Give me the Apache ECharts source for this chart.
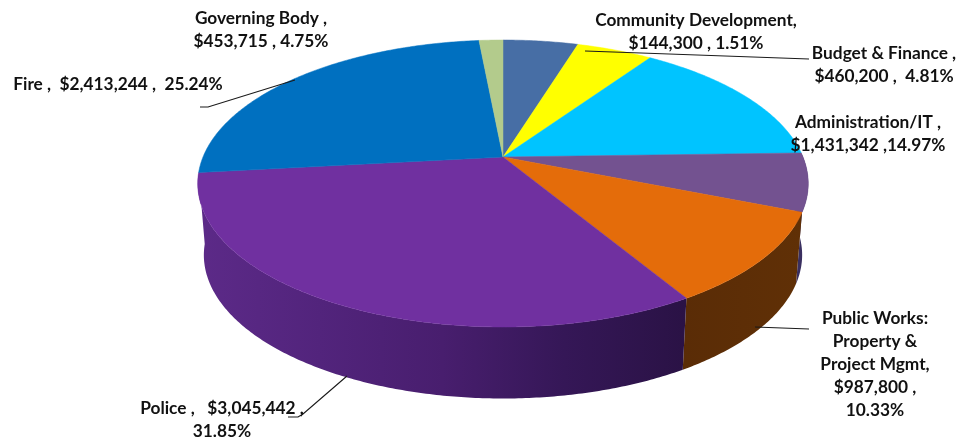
<!DOCTYPE html>
<html>
<head>
<meta charset="utf-8">
<style>html,body{margin:0;padding:0;background:#fff}#chart{width:967px;height:441px}</style>
<script src="https://cdn.jsdelivr.net/npm/echarts@6/dist/echarts.min.js"></script>
</head>
<body>
<div id="chart"></div>
<script>
// Department budget shares, clockwise from twelve o'clock.
const categories = ['Governing Body', 'Budget & Finance', 'Administration/IT', 'Other',
  'Public Works', 'Police', 'Fire', 'Community Development'];
const amounts = [453715, 460200, 1431342, 625000, 987800, 3045442, 2413244, 144300];
const percents = [4.75, 4.81, 14.97, 6.54, 10.33, 31.85, 25.24, 1.51];

// Slice colours: top face, then side wall shading from left to right.
const topColors = ['#476ea5', '#ffff00', '#00c4ff', '#735290', '#e46c0a', '#7030a0', '#0070c0', '#b3cb8c'];
const wallStops = {
  3: ['#3a2f60', '#3a2f60'],
  4: ['#5a2c06', '#603006'],
  5: ['#5c2a88', '#52247c', '#481e6e', '#351757', '#2a1245']
};

const usd = v => '$' + v.toLocaleString('en-US');
const pct = v => v.toFixed(2) + '%';

// Label blocks: text lines, centre x, first line centre y, leader polyline.
const labelBlocks = [
  { i: 0, x: 261, y: 18, lines: [categories[0] + ' ,', usd(amounts[0]) + ' , ' + pct(percents[0])] },
  { i: 1, x: 884, y: 53, lines: [categories[1] + ' ,', usd(amounts[1]) + ' ,  ' + pct(percents[1])],
    leader: [[585, 51], [809, 59]] },
  { i: 2, x: 868, y: 122, lines: [categories[2] + ' ,', usd(amounts[2]) + ' ,' + pct(percents[2])] },
  { i: 4, x: 875, y: 318, lines: ['Public Works:', 'Property &', 'Project Mgmt,', usd(amounts[4]) + ' ,', pct(percents[4])],
    leader: [[755, 327], [809, 329]] },
  { i: 5, x: 222, y: 408, lines: [categories[5] + ' ,   ' + usd(amounts[5]) + ' ,', pct(percents[5])],
    leader: [[347, 376], [303, 414], [298, 417], [288, 417]] },
  { i: 6, x: 118, y: 84, lines: [categories[6] + ' ,  ' + usd(amounts[6]) + ' ,  ' + pct(percents[6])],
    leader: [[295, 80], [208, 107], [200, 107]] },
  { i: 7, x: 696, y: 20, lines: [categories[7] + ',', usd(amounts[7]) + ' , ' + pct(percents[7])] }
];

// Perspective of the tilted disc.
const CX = 503, CY = 157, A = 300, B = 138.6, K = 0.1847;
const DEPTH = 71.5, LOWER_SCALE = 0.98;
const LINE_H = 23;

function rim(theta) {
  const u = Math.sin(theta), v = -Math.cos(theta), d = 1 - K * v;
  return [CX + A * u / d, CY + B * v / d];
}
function lowerRim(theta) {
  const p = rim(theta);
  return [CX + (p[0] - CX) * LOWER_SCALE, p[1] + DEPTH];
}
function arc(fn, a0, a1) {
  const n = Math.max(2, Math.ceil((a1 - a0) / 0.01)), pts = [];
  for (let k = 0; k <= n; k++) pts.push(fn(a0 + (a1 - a0) * k / n));
  return pts;
}

const total = amounts.reduce((s, v) => s + v, 0);
let running = 0;
const sliceData = amounts.map((v, i) => {
  const start = running / total * Math.PI * 2;
  running += v;
  return [start, running / total * Math.PI * 2, i];
});

function renderWall(params, api) {
  const i = api.value(2);
  const stops = wallStops[i];
  if (!stops) return { type: 'group', children: [] };
  const a0 = Math.max(api.value(0), 1.45), a1 = Math.min(api.value(1), 4.8);
  const upper = arc(rim, a0, a1);
  const lower = arc(lowerRim, a0, a1).reverse();
  const xs = upper.concat(lower).map(p => p[0]);
  const fill = new echarts.graphic.LinearGradient(
    Math.min.apply(null, xs), 0, Math.max.apply(null, xs), 0,
    stops.map((color, k) => ({ offset: k / (stops.length - 1), color: color })), true);
  return { type: 'polygon', shape: { points: upper.concat(lower) }, style: { fill: fill } };
}

function renderTop(params, api) {
  const i = api.value(2);
  const points = [[CX, CY]].concat(arc(rim, api.value(0), api.value(1)));
  return { type: 'polygon', shape: { points: points },
    style: { fill: topColors[i], stroke: topColors[i], lineWidth: 0.5 } };
}

function renderLabel(params) {
  const block = labelBlocks[params.dataIndex];
  const children = block.lines.map((line, k) => ({
    type: 'text',
    style: { x: block.x, y: block.y + k * LINE_H, text: line, fill: '#111',
      font: 'bold 17.3px Lato', textAlign: 'center', textVerticalAlign: 'middle' }
  }));
  if (block.leader) {
    children.unshift({ type: 'polyline', shape: { points: block.leader },
      style: { fill: null, stroke: '#1a1a1a', lineWidth: 1.1 } });
  }
  return { type: 'group', children: children };
}

const chart = echarts.init(document.getElementById('chart'), null, { renderer: 'canvas' });
chart.setOption({
  animation: false,
  backgroundColor: '#ffffff',
  series: [
    { type: 'custom', coordinateSystem: 'none', z: 1, data: sliceData, renderItem: renderWall, silent: true },
    { type: 'custom', coordinateSystem: 'none', z: 2, data: sliceData, renderItem: renderTop, silent: true },
    { type: 'custom', coordinateSystem: 'none', z: 3, data: labelBlocks.map(b => [b.i]), renderItem: renderLabel, silent: true }
  ]
});
</script>
</body>
</html>
